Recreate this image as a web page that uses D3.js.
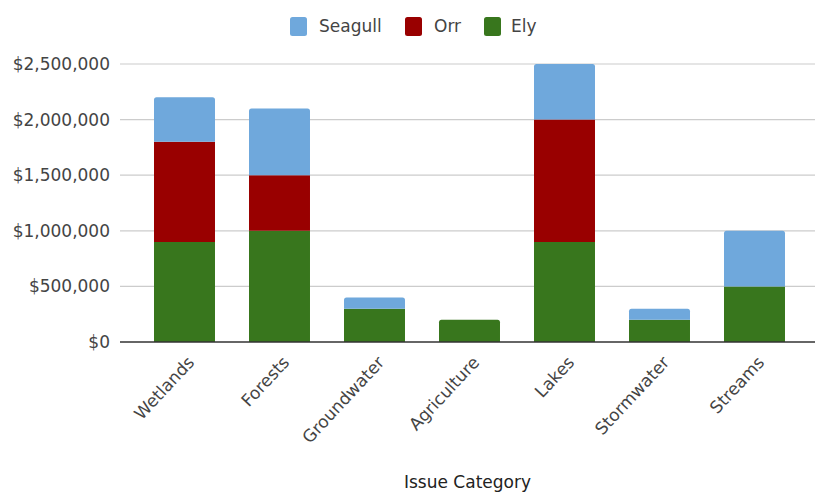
<!DOCTYPE html>
<html>
<head>
<meta charset="utf-8">
<script src="https://cdn.jsdelivr.net/npm/d3@7"></script>
<style>
  html, body { margin: 0; padding: 0; background: #fff; }
  svg text { font-family: "DejaVu Sans", Verdana, sans-serif !important; }
</style>
</head>
<body>
<svg id="chart" width="815" height="494"></svg>
<script>
// Funding by issue category, stacked by source
const categories = ["Wetlands", "Forests", "Groundwater", "Agriculture", "Lakes", "Stormwater", "Streams"];
const ely     = [900000, 1000000, 300000, 200000,  900000, 200000, 500000];
const orr     = [900000,  500000,      0,      0, 1100000,      0,      0];
const seagull = [400000,  600000, 100000,      0,  500000, 100000, 500000];
const yTicks  = [0, 500000, 1000000, 1500000, 2000000, 2500000];

const seriesNames  = ["Ely", "Orr", "Seagull"];
const seriesColors = { Ely: "#38761d", Orr: "#990000", Seagull: "#6fa8dc" };

const rows = categories.map((c, i) => ({ category: c, Ely: ely[i], Orr: orr[i], Seagull: seagull[i] }));
const stacked = d3.stack().keys(seriesNames)(rows);

const svg = d3.select("#chart");
const FONT = "'DejaVu Sans', Verdana, sans-serif";
const FS = "17px";
const plotLeft = 120, plotRight = 815, plotTop = 64, plotBottom = 342;

const x = d3.scaleBand()
  .domain(categories)
  .range([137, 802])
  .paddingInner(0.358)
  .paddingOuter(0.179);

const y = d3.scaleLinear()
  .domain([0, 2500000])
  .range([plotBottom, plotTop]);

const fmt = v => "$" + d3.format(",")(v);

// Gridlines
svg.append("g")
  .selectAll("line")
  .data(yTicks.filter(t => t > 0))
  .join("line")
  .attr("x1", plotLeft).attr("x2", plotRight)
  .attr("y1", d => y(d)).attr("y2", d => y(d))
  .attr("stroke", "#cccccc").attr("stroke-width", 1.2);

// Y axis labels
const yAxis = svg.append("g")
  .attr("transform", `translate(${plotLeft},0)`)
  .call(d3.axisLeft(y).tickValues(yTicks).tickFormat(fmt).tickSize(0).tickPadding(10))
  .attr("font-family", FONT);
yAxis.select(".domain").remove();
yAxis.selectAll("text")
  .attr("fill", "#444").style("font-size", FS);

// Stacked bars; the topmost segment of each bar gets slightly rounded corners
const topIndex = rows.map(r => {
  let top = -1;
  seriesNames.forEach((k, si) => { if (r[k] > 0) top = si; });
  return top;
});

svg.append("g")
  .selectAll("g")
  .data(stacked)
  .join("g")
  .attr("fill", d => seriesColors[d.key])
  .each(function (layer, si) {
    d3.select(this).selectAll("path")
      .data(layer.map((d, i) => ({ d, i })).filter(o => o.d[1] > o.d[0]))
      .join("path")
      .attr("d", o => {
        const x0 = x(o.d.data.category), w = x.bandwidth();
        const yTop = y(o.d[1]), yBot = y(o.d[0]);
        const r = topIndex[o.i] === si ? 2.5 : 0;
        return `M${x0},${yBot} V${yTop + r} Q${x0},${yTop} ${x0 + r},${yTop} H${x0 + w - r} Q${x0 + w},${yTop} ${x0 + w},${yTop + r} V${yBot} Z`;
      });
  });

// Baseline
svg.append("line")
  .attr("x1", plotLeft).attr("x2", plotRight)
  .attr("y1", y(0)).attr("y2", y(0))
  .attr("stroke", "#333").attr("stroke-width", 1.3);

// X axis labels, rotated
const xAxis = svg.append("g")
  .attr("transform", `translate(0,${plotBottom})`)
  .call(d3.axisBottom(x).tickSize(0).tickPadding(0))
  .attr("font-family", FONT);
xAxis.select(".domain").remove();
xAxis.selectAll("text")
  .attr("fill", "#444")
  .style("font-size", FS)
  .attr("text-anchor", "end")
  .attr("y", 0).attr("dy", "0.71em")
  .attr("transform", "translate(2,13) rotate(-47)");

// Axis title
svg.append("text")
  .attr("x", (plotLeft + plotRight) / 2)
  .attr("y", 488)
  .attr("text-anchor", "middle")
  .attr("fill", "#222")
  .style("font-size", FS)
  .text("Issue Category");

// Legend
const legendItems = [
  { key: "Seagull", sx: 290, tx: 319 },
  { key: "Orr", sx: 405, tx: 434 },
  { key: "Ely", sx: 484, tx: 511 }
];
const legend = svg.append("g");
legend.selectAll("rect")
  .data(legendItems)
  .join("rect")
  .attr("x", d => d.sx).attr("y", 17)
  .attr("width", 17).attr("height", 19)
  .attr("rx", 2.5)
  .attr("fill", d => seriesColors[d.key]);
legend.selectAll("text")
  .data(legendItems)
  .join("text")
  .attr("x", d => d.tx).attr("y", 32)
  .attr("fill", "#444")
  .style("font-size", FS)
  .text(d => d.key);
</script>
</body>
</html>
